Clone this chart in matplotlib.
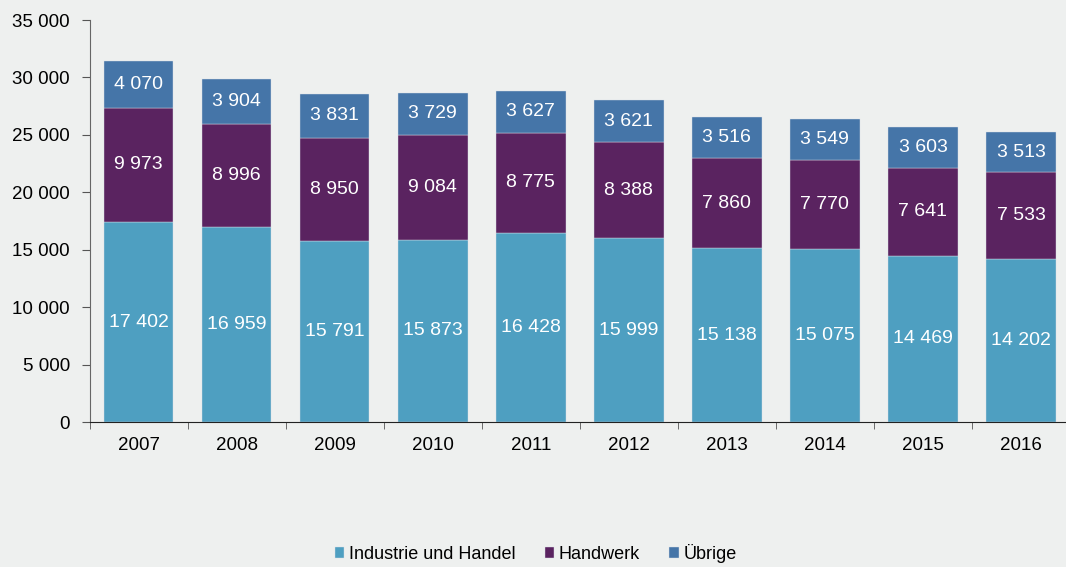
import matplotlib.pyplot as plt
import numpy as np

years = ["2007", "2008", "2009", "2010", "2011", "2012", "2013", "2014", "2015", "2016"]
industrie = [17402, 16959, 15791, 15873, 16428, 15999, 15138, 15075, 14469, 14202]
handwerk = [9973, 8996, 8950, 9084, 8775, 8388, 7860, 7770, 7641, 7533]
uebrige = [4070, 3904, 3831, 3729, 3627, 3621, 3516, 3549, 3603, 3513]

names = ["Industrie und Handel", "Handwerk", "Übrige"]
colors = ["#4e9fc1", "#5a2360", "#4575a8"]
bg = "#eef0ef"


def fmt(v):
    return "{:,}".format(int(v)).replace(",", " ")


plt.rcParams['font.family'] = ['Liberation Sans', 'DejaVu Sans']

fig = plt.figure(figsize=(10.66, 5.67), dpi=100, facecolor=bg)
ax = fig.add_axes([0.084, 0.2557, 0.9198, 0.709])
ax.set_facecolor(bg)

x = np.arange(len(years))
bottom = np.zeros(len(years))
for vals, name, c in zip([industrie, handwerk, uebrige], names, colors):
    vals = np.array(vals)
    ax.bar(x, vals, 0.71, bottom=bottom, color=c, label=name,
           edgecolor="#d8dde6", linewidth=0.3)
    for xi, b, v in zip(x, bottom, vals):
        ax.text(xi, b + v / 2, fmt(v), ha="center", va="center",
                color="white", fontsize=14)
    bottom = bottom + vals

ax.set_xlim(-0.5, len(years) - 0.5)
ax.set_ylim(0, 35000)
ax.set_yticks(range(0, 35001, 5000))
ax.set_yticklabels([fmt(v) for v in range(0, 35001, 5000)], fontsize=13.5)
ax.set_xticks(x)
ax.set_xticklabels(years, fontsize=13.5)
ax.tick_params(axis="x", which="major", length=0, pad=11)
ax.set_xticks(np.arange(-0.5, len(years), 1), minor=True)
ax.tick_params(axis="x", which="minor", length=5, color="#555555")
ax.tick_params(axis="y", length=6, color="#555555", pad=8)

for s in ["top", "right"]:
    ax.spines[s].set_visible(False)
ax.spines["left"].set_color("#666666")
ax.spines["bottom"].set_color("#222222")

ax.legend(loc="lower center", bbox_to_anchor=(0.455, -0.39), ncol=3,
          frameon=False, fontsize=13, handlelength=0.55, handleheight=0.55,
          handletextpad=0.25, columnspacing=1.6)

fig.savefig("out.png", dpi=100, facecolor=bg)
